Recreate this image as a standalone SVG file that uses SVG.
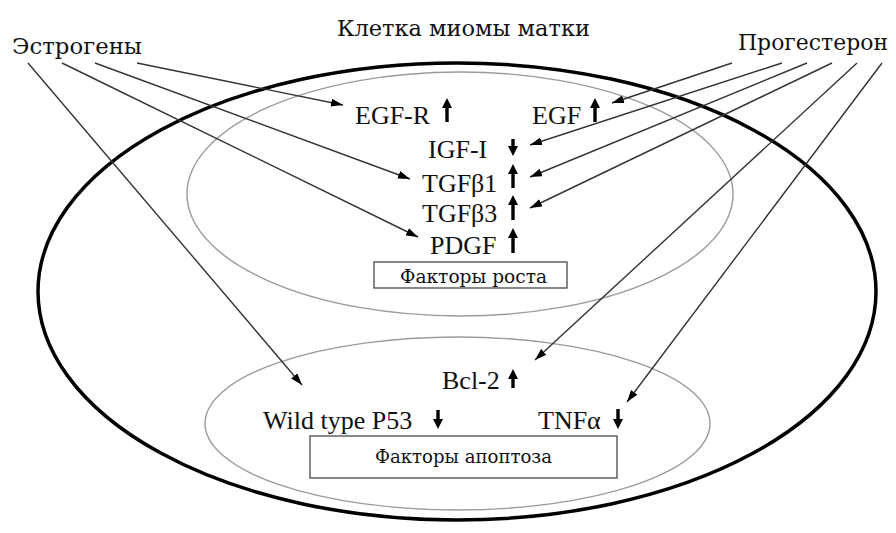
<svg xmlns="http://www.w3.org/2000/svg" width="896" height="533" viewBox="0 0 896 533">
<style>
text{font-family:"Liberation Serif","DejaVu Serif","Times New Roman",serif;fill:#111}
.lbl{font-size:26px}
.cyr{font-family:"DejaVu Serif","Liberation Serif","Noto Serif",serif}
.src{font-size:22px}
.box{font-size:19px}
.cell{fill:none;stroke:#000;stroke-width:3.5}
.zone{fill:none;stroke:#9a9a9a;stroke-width:1.4}
.rect{fill:#fff;stroke:#555;stroke-width:1.4}
.con line{stroke:#333;stroke-width:1.4;marker-end:url(#ah)}
.ba{fill:#000}
</style>
<defs>
<marker id="ah" viewBox="0 0 12 8" refX="12" refY="4" markerWidth="12" markerHeight="8" orient="auto" markerUnits="userSpaceOnUse"><path d="M0,0 L12,4 L0,8 z" fill="#000"/></marker>
</defs>
<rect width="896" height="533" fill="#fff"/>
<g id="cell"><ellipse class="cell" cx="457" cy="291.5" rx="419" ry="228.5"/></g>
<g id="growth-zone"><ellipse class="zone" cx="460" cy="194" rx="273" ry="122"/></g>
<g id="apoptosis-zone"><ellipse class="zone" cx="457.5" cy="423.5" rx="252.5" ry="86.5"/></g>
<g id="title"><text class="cyr src" x="337" y="36" textLength="253" lengthAdjust="spacingAndGlyphs">Клетка миомы матки</text></g>
<g id="estrogens"><text class="cyr src" x="12" y="54" textLength="130" lengthAdjust="spacingAndGlyphs">Эстрогены</text></g>
<g id="progesterone"><text class="cyr src" x="738" y="50" textLength="150" lengthAdjust="spacingAndGlyphs">Прогестерон</text></g>
<g class="con" id="connectors">
<line x1="28" y1="63" x2="302" y2="385"/>
<line x1="62" y1="63" x2="418" y2="237"/>
<line x1="95" y1="63" x2="410" y2="179"/>
<line x1="137" y1="63" x2="343" y2="105"/>
<line x1="732" y1="63" x2="612" y2="103"/>
<line x1="782" y1="63" x2="530" y2="145"/>
<line x1="807" y1="63" x2="530" y2="177"/>
<line x1="832" y1="63" x2="530" y2="208"/>
<line x1="857" y1="63" x2="535" y2="360"/>
<line x1="882" y1="63" x2="627" y2="402"/>
</g>
<g id="egfr"><text class="lbl" x="355" y="124">EGF-R</text><path class="ba" d="M447,98 l-5,10 h3.3 v14 h3.4 v-14 h3.3 z"/></g>
<g id="egf"><text class="lbl" x="532" y="124">EGF</text><path class="ba" d="M595,98 l-5,10 h3.3 v14 h3.4 v-14 h3.3 z"/></g>
<g id="igf"><text class="lbl" x="428" y="158">IGF-I</text><path class="ba" d="M513,156 l-5,-10 h3.3 v-7 h3.4 v7 h3.3 z"/></g>
<g id="tgfb1"><text class="lbl" x="422" y="192">TGFβ1</text><path class="ba" d="M513,164 l-5,10 h3.3 v14 h3.4 v-14 h3.3 z"/></g>
<g id="tgfb3"><text class="lbl" x="422" y="222">TGFβ3</text><path class="ba" d="M513,195 l-5,10 h3.3 v15 h3.4 v-15 h3.3 z"/></g>
<g id="pdgf"><text class="lbl" x="430" y="254">PDGF</text><path class="ba" d="M513,228 l-5,10 h3.3 v15 h3.4 v-15 h3.3 z"/></g>
<g id="growth-factors"><rect class="rect" x="374" y="262" width="193" height="26"/><text class="cyr box" x="400" y="283" textLength="147" lengthAdjust="spacingAndGlyphs">Факторы роста</text></g>
<g id="bcl2"><text class="lbl" x="442" y="389">Bcl-2</text><path class="ba" d="M513,369 l-5,10 h3.3 v9 h3.4 v-9 h3.3 z"/></g>
<g id="p53"><text class="lbl" x="263" y="429">Wild type P53</text><path class="ba" d="M438,429 l-5,-10 h3.3 v-9 h3.4 v9 h3.3 z"/></g>
<g id="tnfa"><text class="lbl" x="538" y="429">TNFα</text><path class="ba" d="M618,429 l-5,-10 h3.3 v-10 h3.4 v10 h3.3 z"/></g>
<g id="apoptosis-factors"><rect class="rect" x="310" y="436" width="307" height="42"/><text class="cyr box" x="375" y="463" textLength="177" lengthAdjust="spacingAndGlyphs">Факторы апоптоза</text></g>
</svg>
